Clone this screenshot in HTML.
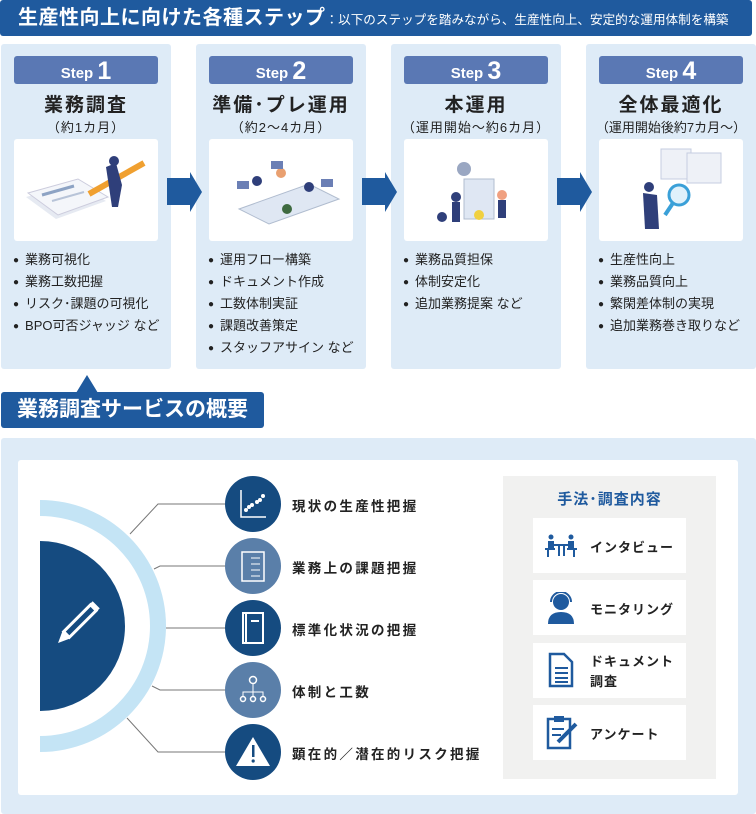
<!DOCTYPE html>
<html><head><meta charset="utf-8"><style>
*{margin:0;padding:0;box-sizing:border-box}
body{width:756px;height:814px;background:#fff;position:relative;overflow:hidden;font-family:"Liberation Sans","Noto Sans CJK JP",sans-serif;color:#222}
.a{position:absolute}
.col{position:absolute;top:44px;width:170px;height:325px;background:#deebf7;border-radius:3px}
.tab{position:absolute;left:13px;top:12px;width:144px;height:28px;background:#5a78b4;border-radius:3px;color:#fff;text-align:center;font-weight:bold;font-size:15px;line-height:30px}
.tab b{font-size:25px;vertical-align:-1px}
.t1{position:absolute;left:0;width:170px;top:46px;text-align:center;font-size:19px;font-weight:bold;letter-spacing:2px}
.t2{position:absolute;left:0;width:170px;top:73px;text-align:center;font-size:13px;letter-spacing:1px}
.img{position:absolute;left:13px;top:95px;width:144px;height:102px;background:#fff;border-radius:3px}
ul{position:absolute;left:12px;top:205px;list-style:none;font-size:13px}
li{height:22px;line-height:22px}
li:before{content:"●";font-size:10px;margin-right:6px;vertical-align:1px}
.arr{position:absolute;top:172px}
.card{position:absolute;left:533px;width:153px;height:55px;background:#fff;font-size:13px;font-weight:bold;letter-spacing:1px}
.card span{position:absolute;left:57px}
.lab{position:absolute;left:292px;font-size:13.5px;font-weight:bold;letter-spacing:2.3px}
</style></head><body>
<div class="a" style="left:0;top:0;width:752px;height:36px;background:#1f5a9e;border-radius:3px;color:#fff;line-height:36px;padding-left:18px;font-size:20px;font-weight:bold;letter-spacing:.5px;white-space:nowrap">生産性向上に向けた各種ステップ<span style="font-size:12.6px;font-weight:normal;letter-spacing:0">：以下のステップを踏みながら、生産性向上、安定的な運用体制を構築</span></div>

<div class="col" style="left:1px"><div class="tab">Step <b>1</b></div><div class="t1">業務調査</div><div class="t2">（約1カ月）</div><div class="img">
<svg width="144" height="102"><polygon points="12,58 62,44 92,62 42,80" fill="#e6eaf2"/><polygon points="14,54 64,40 94,58 44,76" fill="#f4f6fa" stroke="#ccd" /><line x1="28" y1="56" x2="60" y2="47" stroke="#8da3c4" stroke-width="3"/><line x1="38" y1="62" x2="70" y2="53" stroke="#b8c4d8" stroke-width="2"/><line x1="75" y1="55" x2="130" y2="24" stroke="#f0a030" stroke-width="6"/><polygon points="92,28 102,24 108,46 104,68 98,68" fill="#2f3f7a"/><circle cx="100" cy="22" r="5" fill="#2f3f7a"/></svg></div>
<ul><li>業務可視化</li><li>業務工数把握</li><li>リスク･課題の可視化</li><li>BPO可否ジャッジ など</li></ul></div>

<div class="col" style="left:196px"><div class="tab">Step <b>2</b></div><div class="t1">準備･プレ運用</div><div class="t2">（約2～4カ月）</div><div class="img">
<svg width="144" height="102"><polygon points="30,70 100,45 130,60 60,85" fill="#dfe7f3" stroke="#b0bccf"/><circle cx="48" cy="42" r="5" fill="#2f3f7a"/><circle cx="72" cy="34" r="5" fill="#e9a070"/><circle cx="100" cy="48" r="5" fill="#2f3f7a"/><circle cx="78" cy="70" r="5" fill="#3e6a40"/><rect x="28" y="42" width="12" height="8" fill="#6b7fb5"/><rect x="62" y="22" width="12" height="8" fill="#6b7fb5"/><rect x="112" y="40" width="12" height="8" fill="#6b7fb5"/></svg></div>
<ul><li>運用フロー構築</li><li>ドキュメント作成</li><li>工数体制実証</li><li>課題改善策定</li><li>スタッフアサイン など</li></ul></div>

<div class="col" style="left:391px"><div class="tab">Step <b>3</b></div><div class="t1">本運用</div><div class="t2">（運用開始～約6カ月）</div><div class="img">
<svg width="144" height="102"><rect x="60" y="40" width="30" height="40" fill="#dfe7f3" stroke="#b0bccf"/><circle cx="60" cy="30" r="7" fill="#9aa7c2"/><circle cx="52" cy="58" r="5" fill="#2f3f7a"/><rect x="48" y="63" width="8" height="20" fill="#2f3f7a"/><circle cx="98" cy="56" r="5" fill="#f0a080"/><rect x="94" y="61" width="8" height="18" fill="#2f3f7a"/><circle cx="75" cy="76" r="5" fill="#f0d040"/><circle cx="38" cy="78" r="5" fill="#2f3f7a"/></svg></div>
<ul><li>業務品質担保</li><li>体制安定化</li><li>追加業務提案 など</li></ul></div>

<div class="col" style="left:586px"><div class="tab">Step <b>4</b></div><div class="t1">全体最適化</div><div class="t2" style="letter-spacing:0">（運用開始後約7カ月～）</div><div class="img">
<svg width="144" height="102"><rect x="62" y="10" width="30" height="30" fill="#eef1f7" stroke="#c5cde0"/><rect x="88" y="14" width="34" height="30" fill="#eef1f7" stroke="#c5cde0"/><circle cx="80" cy="56" r="10" fill="#dff1fb" stroke="#3aa0d8" stroke-width="3"/><line x1="74" y1="64" x2="66" y2="76" stroke="#3aa0d8" stroke-width="4"/><circle cx="50" cy="48" r="5" fill="#2f3f7a"/><polygon points="44,54 58,56 60,90 46,90" fill="#2f3f7a"/></svg></div>
<ul><li>生産性向上</li><li>業務品質向上</li><li>繁閑差体制の実現</li><li>追加業務巻き取りなど</li></ul></div>

<svg class="arr" style="left:166px" width="37" height="41"><polygon points="1,6 24,6 24,0 36,20 24,40 24,33 1,33" fill="#1f5a9e"/></svg>
<svg class="arr" style="left:361px" width="37" height="41"><polygon points="1,6 24,6 24,0 36,20 24,40 24,33 1,33" fill="#1f5a9e"/></svg>
<svg class="arr" style="left:556px" width="37" height="41"><polygon points="1,6 24,6 24,0 36,20 24,40 24,33 1,33" fill="#1f5a9e"/></svg>

<svg class="a" style="left:76px;top:375px" width="22" height="18"><polygon points="11,0 22,18 0,18" fill="#1f5a9e"/></svg>
<div class="a" style="left:1px;top:392px;width:263px;height:36px;background:#1f5a9e;border-radius:3px;color:#fff;font-size:21px;font-weight:bold;line-height:36px;padding-left:16px">業務調査サービスの概要</div>

<div class="a" style="left:1px;top:438px;width:755px;height:376px;background:#deebf7;border-radius:3px"></div>
<div class="a" style="left:18px;top:460px;width:720px;height:335px;background:#fff;border-radius:3px"></div>

<svg class="a" style="left:0;top:460px" width="500" height="340">
<g transform="translate(0,-460)">
<path d="M40,500 A126,126 0 0 1 40,752 L40,736 A110,110 0 0 0 40,516 Z" fill="#c4e4f5"/>
<path d="M40,541 A85,85 0 0 1 40,711 Z" fill="#154b80"/>
<g fill="none" stroke="#777" stroke-width="1">
<polyline points="225,504 158,504 130,534"/>
<polyline points="225,566 160,566 154,569"/>
<polyline points="225,628 166,628"/>
<polyline points="225,690 160,690 152,686"/>
<polyline points="225,752 158,752 127,718"/>
</g>
<g transform="translate(75,626) rotate(45)"><rect x="-4" y="-26" width="8" height="38" fill="none" stroke="#fff" stroke-width="3"/><polygon points="-5,13 5,13 0,24" fill="#fff"/><rect x="-5" y="-30" width="10" height="5" fill="#fff"/></g>
<circle cx="253" cy="504" r="28" fill="#154b80"/>
<circle cx="253" cy="566" r="28" fill="#5a7fa9"/>
<circle cx="253" cy="628" r="28" fill="#154b80"/>
<circle cx="253" cy="690" r="28" fill="#5a7fa9"/>
<circle cx="253" cy="752" r="28" fill="#154b80"/>
<g stroke="#fff" fill="#fff">
<polyline points="241,490 241,517 266,517" fill="none" stroke-width="1.5"/>
<circle cx="246" cy="510" r="1.5"/><circle cx="252" cy="505" r="1.5"/><circle cx="257" cy="502" r="1.5"/><circle cx="263" cy="496" r="1.5"/><circle cx="249" cy="507" r="1.5"/><circle cx="260" cy="500" r="1.5"/>
<rect x="242" y="552" width="22" height="29" fill="none" stroke-width="1.5"/>
<line x1="251" y1="558" x2="260" y2="558"/><line x1="251" y1="564" x2="260" y2="564"/><line x1="251" y1="570" x2="260" y2="570"/><line x1="251" y1="576" x2="260" y2="576"/>
<rect x="243" y="613" width="20" height="30" fill="none" stroke-width="2"/><line x1="246" y1="613" x2="246" y2="643" stroke-width="2"/><line x1="251" y1="621" x2="259" y2="621" stroke-width="2"/>
<circle cx="253" cy="680" r="3.5" fill="none" stroke-width="1.5"/><polyline points="253,684 253,692" fill="none"/><polyline points="243,697 243,692 263,692 263,697" fill="none"/><line x1="253" y1="692" x2="253" y2="697"/>
<circle cx="243" cy="699" r="2.5" fill="none" stroke-width="1.5"/><circle cx="253" cy="699" r="2.5" fill="none" stroke-width="1.5"/><circle cx="263" cy="699" r="2.5" fill="none" stroke-width="1.5"/>
</g>
<polygon points="253,737 270,766 236,766" fill="#fff"/><rect x="252" y="745" width="2.5" height="12" fill="#154b80"/><circle cx="253.2" cy="761" r="1.6" fill="#154b80"/>
</g></svg>
<div class="lab" style="top:495px">現状の生産性把握</div>
<div class="lab" style="top:557px">業務上の課題把握</div>
<div class="lab" style="top:619px">標準化状況の把握</div>
<div class="lab" style="top:681px">体制と工数</div>
<div class="lab" style="top:743px">顕在的／潜在的リスク把握</div>

<div class="a" style="left:503px;top:476px;width:213px;height:303px;background:#f1f1f0"></div>
<div class="a" style="left:503px;top:488px;width:213px;text-align:center;color:#1f5a9e;font-size:15px;font-weight:bold;letter-spacing:1px">手法･調査内容</div>
<div class="card" style="top:518px"><svg class="a" style="left:12px;top:16px" width="32" height="24"><g fill="#1f5a9e"><circle cx="6" cy="3" r="2.5"/><circle cx="26" cy="3" r="2.5"/><rect x="3" y="7" width="6" height="8"/><rect x="23" y="7" width="6" height="8"/><rect x="9" y="10" width="14" height="2"/><rect x="0" y="14" width="10" height="2"/><rect x="22" y="14" width="10" height="2"/><rect x="2" y="16" width="2" height="7"/><rect x="28" y="16" width="2" height="7"/><rect x="13" y="12" width="2" height="10"/><rect x="18" y="12" width="2" height="10"/></g></svg><span style="top:19px">インタビュー</span></div>
<div class="card" style="top:580px"><svg class="a" style="left:14px;top:12px" width="30" height="32"><circle cx="14" cy="10" r="8" fill="#1f5a9e"/><path d="M4,10 A10,10 0 0 1 24,10" fill="none" stroke="#1f5a9e" stroke-width="2"/><path d="M1,32 Q1,20 14,20 Q27,20 27,32Z" fill="#1f5a9e"/></svg><span style="top:19px">モニタリング</span></div>
<div class="card" style="top:643px"><svg class="a" style="left:15px;top:9px" width="26" height="36"><path d="M2,2 L16,2 L24,10 L24,34 L2,34Z" fill="none" stroke="#1f5a9e" stroke-width="2.5"/><g stroke="#1f5a9e" stroke-width="2"><line x1="7" y1="16" x2="20" y2="16"/><line x1="7" y1="21" x2="20" y2="21"/><line x1="7" y1="26" x2="20" y2="26"/><line x1="7" y1="30" x2="20" y2="30"/></g></svg><span style="top:9px;line-height:20px">ドキュメント<br>調査</span></div>
<div class="card" style="top:705px"><svg class="a" style="left:13px;top:9px" width="34" height="36"><rect x="2" y="5" width="22" height="29" fill="none" stroke="#1f5a9e" stroke-width="2.5"/><rect x="8" y="2" width="10" height="6" fill="#1f5a9e"/><g stroke="#1f5a9e" stroke-width="2"><line x1="6" y1="15" x2="18" y2="15"/><line x1="6" y1="21" x2="15" y2="21"/><line x1="12" y1="28" x2="30" y2="10" stroke-width="4"/></g></svg><span style="top:19px">アンケート</span></div>
</body></html>
